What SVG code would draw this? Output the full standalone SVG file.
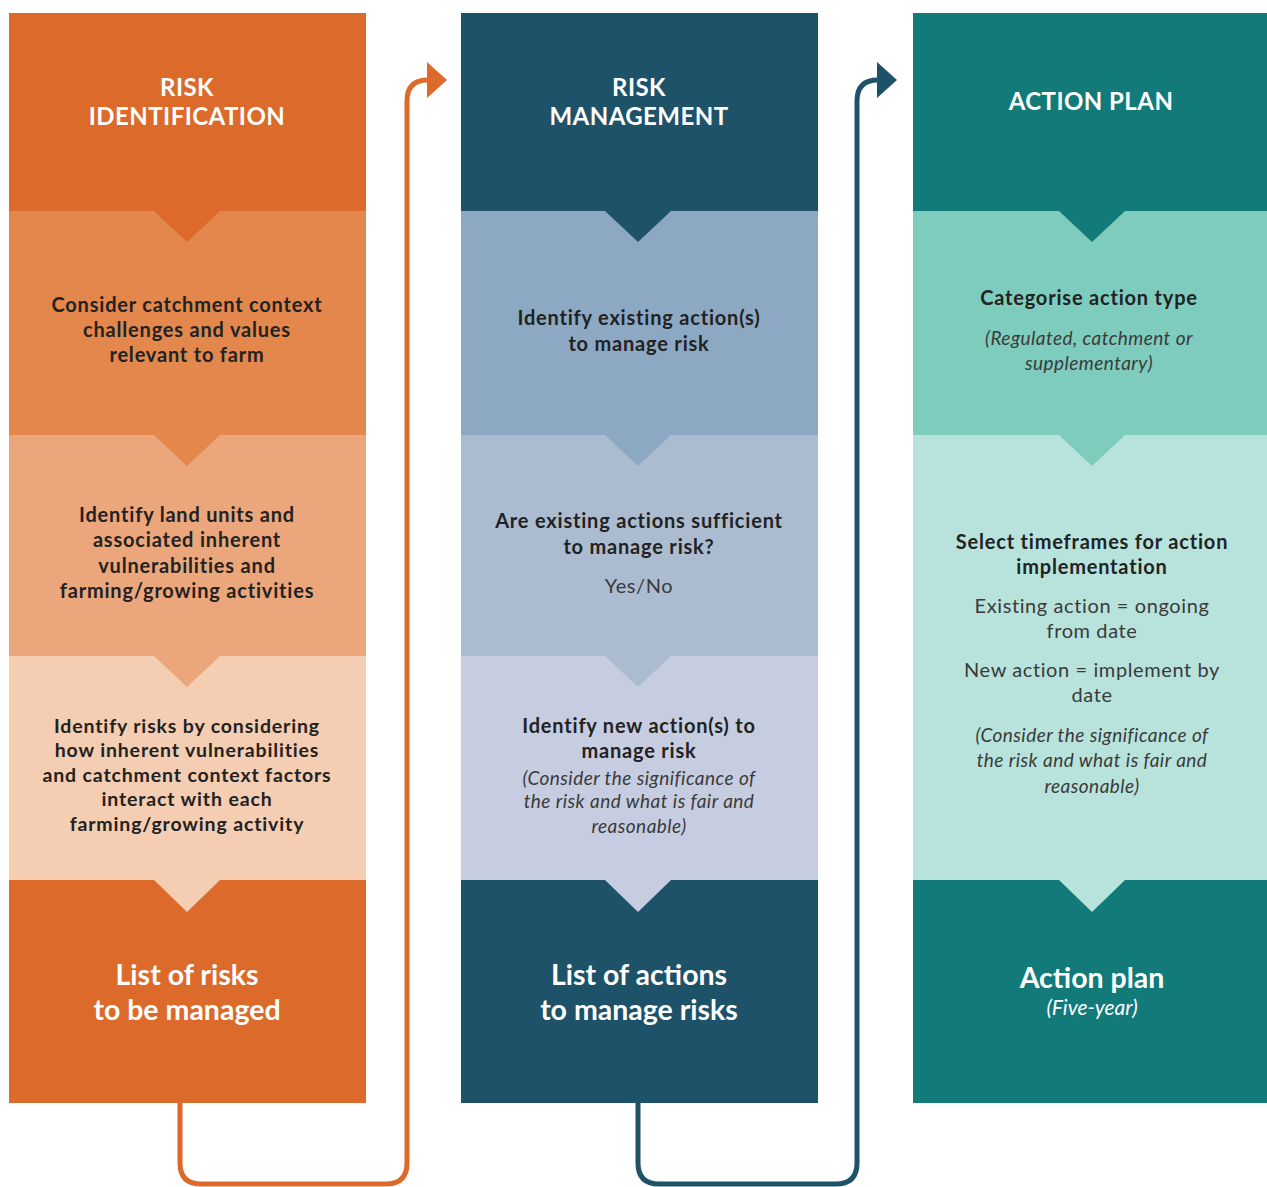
<svg xmlns="http://www.w3.org/2000/svg" width="1267" height="1187" viewBox="0 0 1267 1187">
<style>
text{font-family:Lato,"Open Sans","Liberation Sans",sans-serif;text-anchor:middle}
.hd{fill:#ffffff;font-size:24px;font-weight:bold;letter-spacing:0.45px}
.b{fill:#222222;font-size:20px;font-weight:bold;letter-spacing:0.8px}
.b2{fill:#222222;font-size:19.5px;font-weight:bold;letter-spacing:0.85px}
.r{fill:#3a3a3a;font-size:20px;letter-spacing:0.6px}
.i{fill:#3a3a3a;font-size:19px;font-style:italic;letter-spacing:0.45px}
.ft{fill:#ffffff;font-size:28.5px;font-weight:bold}
.fti{fill:#ffffff;font-size:21px;font-style:italic}
.conn{fill:none;stroke-width:5;stroke-linejoin:round}
</style>
<rect width="1267" height="1187" fill="#ffffff"/>

<g id="col1">
  <g id="risk-identification">
    <rect x="9" y="13" width="357" height="198" fill="#DC6A2A"/>
    <text class="hd" x="187" y="96">RISK</text>
    <text class="hd" x="187" y="125">IDENTIFICATION</text>
  </g>
  <g id="consider-catchment">
    <rect x="9" y="211" width="357" height="224" fill="#E3874C"/>
    <polygon points="154,211 220,211 187,242" fill="#DC6A2A"/>
    <text class="b" x="187" y="312">Consider catchment context</text>
    <text class="b" x="187" y="337">challenges and values</text>
    <text class="b" x="187" y="362">relevant to farm</text>
  </g>
  <g id="identify-land-units">
    <rect x="9" y="435" width="357" height="221" fill="#EBA67B"/>
    <polygon points="154,435 220,435 187,466" fill="#E3874C"/>
    <text class="b" x="187" y="522">Identify land units and</text>
    <text class="b" x="187" y="547">associated inherent</text>
    <text class="b" x="187" y="573">vulnerabilities and</text>
    <text class="b" x="187" y="598">farming/growing activities</text>
  </g>
  <g id="identify-risks">
    <rect x="9" y="656" width="357" height="224" fill="#F4CDB2"/>
    <polygon points="154,656 220,656 187,687" fill="#EBA67B"/>
    <text class="b2" x="187" y="733">Identify risks by considering</text>
    <text class="b2" x="187" y="757">how inherent vulnerabilities</text>
    <text class="b2" x="187" y="782">and catchment context factors</text>
    <text class="b2" x="187" y="806">interact with each</text>
    <text class="b2" x="187" y="831">farming/growing activity</text>
  </g>
  <g id="list-of-risks">
    <rect x="9" y="880" width="357" height="223" fill="#DC6A2A"/>
    <polygon points="154,880 220,880 187,912" fill="#F4CDB2"/>
    <text class="ft" x="187" y="985">List of risks</text>
    <text class="ft" x="187" y="1020">to be managed</text>
  </g>
</g>

<g id="col2">
  <g id="risk-management">
    <rect x="461" y="13" width="357" height="198" fill="#1E5269"/>
    <text class="hd" x="639" y="96">RISK</text>
    <text class="hd" x="639" y="125">MANAGEMENT</text>
  </g>
  <g id="identify-existing">
    <rect x="461" y="211" width="357" height="224" fill="#8DA8C3"/>
    <polygon points="605,211 671,211 638,242" fill="#1E5269"/>
    <text class="b" x="639" y="325">Identify existing action(s)</text>
    <text class="b" x="639" y="351">to manage risk</text>
  </g>
  <g id="are-existing-sufficient">
    <rect x="461" y="435" width="357" height="221" fill="#ABBCD0"/>
    <polygon points="605,435 671,435 638,466" fill="#8DA8C3"/>
    <text class="b" x="639" y="528">Are existing actions sufficient</text>
    <text class="b" x="639" y="554">to manage risk?</text>
    <text class="r" x="639" y="593">Yes/No</text>
  </g>
  <g id="identify-new">
    <rect x="461" y="656" width="357" height="224" fill="#C6CDE0"/>
    <polygon points="605,656 671,656 638,687" fill="#ABBCD0"/>
    <text class="b" x="639" y="733">Identify new action(s) to</text>
    <text class="b" x="639" y="758">manage risk</text>
    <text class="i" x="639" y="785">(Consider the significance of</text>
    <text class="i" x="639" y="808">the risk and what is fair and</text>
    <text class="i" x="639" y="833">reasonable)</text>
  </g>
  <g id="list-of-actions">
    <rect x="461" y="880" width="357" height="223" fill="#1E5269"/>
    <polygon points="605,880 671,880 638,912" fill="#C6CDE0"/>
    <text class="ft" x="639" y="985">List of actions</text>
    <text class="ft" x="639" y="1020">to manage risks</text>
  </g>
</g>

<g id="col3">
  <g id="action-plan-header">
    <rect x="913" y="13" width="354" height="198" fill="#127A79"/>
    <text class="hd" x="1091" y="110">ACTION PLAN</text>
  </g>
  <g id="categorise">
    <rect x="913" y="211" width="354" height="224" fill="#7ECCBD"/>
    <polygon points="1059,211 1125,211 1092,242" fill="#127A79"/>
    <text class="b" x="1089" y="305">Categorise action type</text>
    <text class="i" x="1089" y="345">(Regulated, catchment or</text>
    <text class="i" x="1089" y="370">supplementary)</text>
  </g>
  <g id="select-timeframes">
    <rect x="913" y="435" width="354" height="445" fill="#B7E3DC"/>
    <polygon points="1059,435 1125,435 1092,466" fill="#7ECCBD"/>
    <text class="b" x="1092" y="549">Select timeframes for action</text>
    <text class="b" x="1092" y="574">implementation</text>
    <text class="r" x="1092" y="613">Existing action = ongoing</text>
    <text class="r" x="1092" y="638">from date</text>
    <text class="r" x="1092" y="677">New action = implement by</text>
    <text class="r" x="1092" y="702">date</text>
    <text class="i" x="1092" y="742">(Consider the significance of</text>
    <text class="i" x="1092" y="767">the risk and what is fair and</text>
    <text class="i" x="1092" y="793">reasonable)</text>
  </g>
  <g id="action-plan">
    <rect x="913" y="880" width="354" height="223" fill="#127A79"/>
    <polygon points="1059,880 1125,880 1092,912" fill="#B7E3DC"/>
    <text class="ft" x="1092" y="988">Action plan</text>
    <text class="fti" x="1092" y="1015">(Five-year)</text>
  </g>
</g>

<g id="connectors">
  <path class="conn" stroke="#DC6A2A" d="M180,1103 V1163 Q180,1184 201,1184 H386 Q407,1184 407,1163 V101 Q407,80 428,80"/>
  <polygon points="427,62 447,80 427,98" fill="#DC6A2A"/>
  <path class="conn" stroke="#1E5269" d="M638,1103 V1163 Q638,1184 659,1184 H836 Q857,1184 857,1163 V101 Q857,80 878,80"/>
  <polygon points="877,62 897,80 877,98" fill="#1E5269"/>
</g>
</svg>
